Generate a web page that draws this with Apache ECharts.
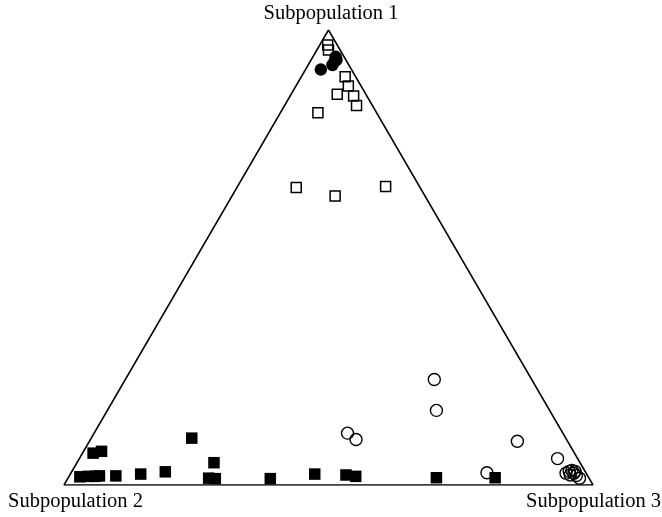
<!DOCTYPE html>
<html>
<head>
<meta charset="utf-8">
<script src="https://cdn.jsdelivr.net/npm/echarts@6/dist/echarts.min.js"></script>
<style>
html,body{margin:0;padding:0;background:#fff;}
#chart{width:662px;height:517px;}
</style>
</head>
<body>
<div id="chart"></div>
<script>
// Vertex labels
const vertexLabels = ['Subpopulation 1', 'Subpopulation 2', 'Subpopulation 3'];

// Compositions [share of Subpopulation 1, Subpopulation 2, Subpopulation 3]
const openSquares = [
  [0.967, 0.018, 0.015], [0.956, 0.022, 0.022], [0.897, 0.020, 0.083],
  [0.877, 0.024, 0.099], [0.859, 0.054, 0.087], [0.855, 0.025, 0.120],
  [0.834, 0.030, 0.136], [0.818, 0.111, 0.071], [0.654, 0.234, 0.112],
  [0.635, 0.170, 0.195], [0.656, 0.064, 0.280]
];
const filledCircles = [
  [0.941, 0.016, 0.043], [0.934, 0.018, 0.048], [0.932, 0.022, 0.046],
  [0.923, 0.031, 0.046], [0.913, 0.058, 0.029]
];
const openCircles = [
  [0.232, 0.184, 0.584], [0.164, 0.214, 0.622], [0.114, 0.407, 0.479],
  [0.100, 0.398, 0.502], [0.096, 0.095, 0.809], [0.058, 0.038, 0.904],
  [0.027, 0.187, 0.786], [0.026, 0.038, 0.936], [0.030, 0.030, 0.940],
  [0.032, 0.024, 0.944], [0.026, 0.023, 0.951], [0.022, 0.032, 0.946],
  [0.021, 0.021, 0.958], [0.015, 0.018, 0.967], [0.030, 0.019, 0.951]
];
const filledSquares = [
  [0.070, 0.910, 0.020], [0.074, 0.892, 0.034], [0.103, 0.707, 0.190],
  [0.049, 0.692, 0.259], [0.018, 0.961, 0.021], [0.019, 0.945, 0.036],
  [0.019, 0.932, 0.049], [0.020, 0.923, 0.057], [0.020, 0.892, 0.088],
  [0.024, 0.843, 0.133], [0.029, 0.794, 0.177], [0.015, 0.719, 0.266],
  [0.014, 0.707, 0.279], [0.014, 0.603, 0.383], [0.024, 0.514, 0.462],
  [0.022, 0.456, 0.522], [0.019, 0.439, 0.542], [0.016, 0.288, 0.696],
  [0.016, 0.177, 0.807]
];
const triangleVertices = [[1, 0, 0], [0, 1, 0], [0, 0, 1], [1, 0, 0]];

// ternary -> cartesian (x along base toward Subpopulation 3, y = share of Subpopulation 1)
function toXY(t) {
  const s = t[0] + t[1] + t[2];
  const a = t[0] / s, c = t[2] / s;
  return [c + a / 2, a];
}

const chart = echarts.init(document.getElementById('chart'), null, {renderer: 'canvas'});
const font = '"Liberation Serif", "Times New Roman", serif';

chart.setOption({
  animation: false,
  backgroundColor: '#ffffff',
  grid: {left: 64, top: 30, width: 529, height: 455, containLabel: false},
  xAxis: {type: 'value', min: 0, max: 1, show: false},
  yAxis: {type: 'value', min: 0, max: 1, show: false},
  graphic: [
    {type: 'text', left: 'center', top: 3, style: {text: vertexLabels[0], font: '20.5px ' + font, fill: '#000'}},
    {type: 'text', left: 8, top: 491, style: {text: vertexLabels[1], font: '20.5px ' + font, fill: '#000'}},
    {type: 'text', right: 1, top: 491, style: {text: vertexLabels[2], font: '20.5px ' + font, fill: '#000'}}
  ],
  series: [
    {
      type: 'line', data: triangleVertices.map(toXY), symbol: 'none', silent: true,
      lineStyle: {color: '#000', width: 1.5}, z: 1
    },
    {
      type: 'scatter', data: openSquares.map(toXY), symbol: 'rect', symbolSize: 10,
      itemStyle: {color: 'rgba(255,255,255,0)', borderColor: '#000', borderWidth: 1.5, opacity: 1}, z: 2
    },
    {
      type: 'scatter', data: openCircles.map(toXY), symbol: 'circle', symbolSize: 12,
      itemStyle: {color: 'rgba(255,255,255,0)', borderColor: '#000', borderWidth: 1.4, opacity: 1}, z: 3
    },
    {
      type: 'scatter', data: filledCircles.map(toXY), symbol: 'circle', symbolSize: 12.5,
      itemStyle: {color: '#000', opacity: 1}, z: 4
    },
    {
      type: 'scatter', data: filledSquares.map(toXY), symbol: 'rect', symbolSize: 11.5,
      itemStyle: {color: '#000', opacity: 1}, z: 5
    }
  ]
});
</script>
</body>
</html>
